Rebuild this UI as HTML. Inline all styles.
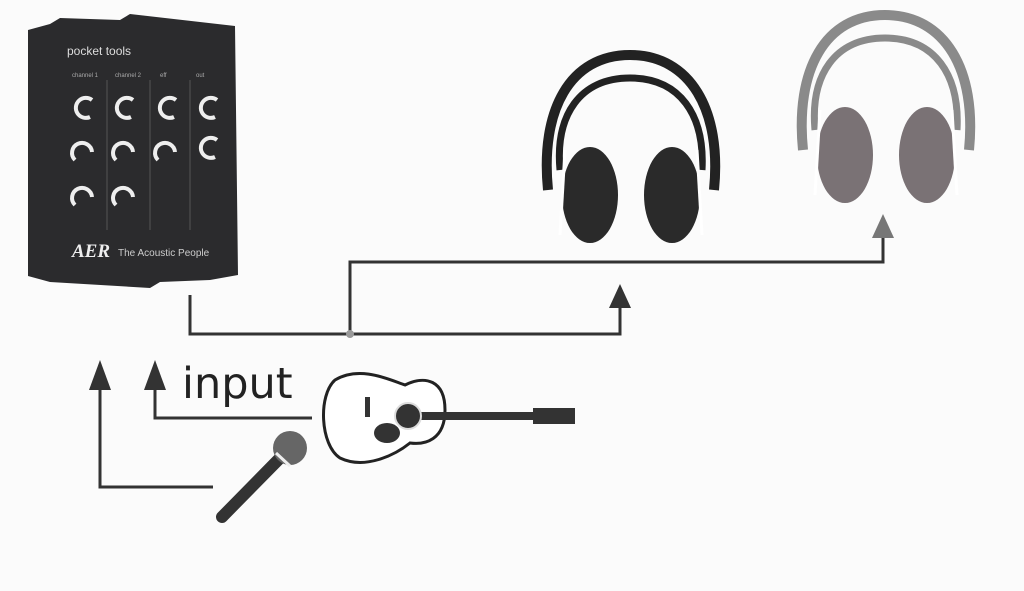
<!DOCTYPE html>
<html><head><style>
html,body{margin:0;padding:0;background:#fbfbfb;}
svg{display:block}
</style></head><body>
<svg width="1024" height="591" viewBox="0 0 1024 591" xmlns="http://www.w3.org/2000/svg">
<rect width="1024" height="591" fill="#fbfbfb"/>
<!-- device -->
<path d="M28 30 L50 24 L60 18 L120 20 L130 14 L200 22 L235 26 L238 275 L210 280 L160 282 L150 288 L50 282 L28 276 Z" fill="#2b2b2d"/>
<text x="67" y="55" font-family="Liberation Sans, sans-serif" font-size="12" fill="#ddd">pocket tools</text>
<g font-family="Liberation Sans, sans-serif" font-size="6" fill="#aaa">
<text x="72" y="77">channel 1</text><text x="115" y="77">channel 2</text><text x="160" y="77">eff</text><text x="196" y="77">out</text>
</g>
<g stroke="#eee" stroke-width="4" fill="none">
<path d="M92 100 A10 10 0 1 0 90 117"/><path d="M133 100 A10 10 0 1 0 131 117"/><path d="M176 100 A10 10 0 1 0 174 117"/><path d="M217 100 A10 10 0 1 0 215 117"/>
<path d="M75 160 A10 10 0 1 1 92 152"/><path d="M116 160 A10 10 0 1 1 133 152"/><path d="M158 160 A10 10 0 1 1 175 152"/><path d="M217 140 A10 10 0 1 0 215 157"/>
<path d="M75 205 A10 10 0 1 1 92 197"/><path d="M116 205 A10 10 0 1 1 133 197"/>
</g>
<g stroke="#555" stroke-width="1"><line x1="107" y1="80" x2="107" y2="230"/><line x1="150" y1="80" x2="150" y2="230"/><line x1="190" y1="80" x2="190" y2="230"/></g>
<text x="72" y="257" font-family="Liberation Serif, serif" font-style="italic" font-weight="bold" font-size="19" fill="#eee">AER</text>
<text x="118" y="256" font-family="Liberation Sans, sans-serif" font-size="10" fill="#ccc">The Acoustic People</text>
<!-- connectors -->
<g stroke="#333" stroke-width="3" fill="none">
<polyline points="190,295 190,334 620,334 620,305"/>
<polyline points="350,334 350,262 883,262 883,235"/>
<polyline points="213,487 100,487 100,380"/>
<polyline points="312,418 155,418 155,380"/>
</g>
<circle cx="350" cy="334" r="4" fill="#999"/>
<polygon points="620,284 609,308 631,308" fill="#333"/>
<polygon points="883,214 872,238 894,238" fill="#777"/>
<polygon points="100,360 89,390 111,390" fill="#333"/>
<polygon points="155,360 144,390 166,390" fill="#333"/>
<text x="182" y="398" font-family="DejaVu Sans, sans-serif" font-size="43" fill="#222">input</text>
<!-- headphones 1 -->
<g>
<path d="M548 190 C540 110 570 55 630 55 C690 55 722 110 714 190" stroke="#222" stroke-width="10" fill="none"/>
<path d="M560 170 C555 115 580 78 630 78 C680 78 705 115 702 170" stroke="#222" stroke-width="7" fill="none"/>
<ellipse cx="590" cy="195" rx="28" ry="48" fill="#2a2a2a"/>
<ellipse cx="672" cy="195" rx="28" ry="48" fill="#2a2a2a"/>
<path d="M565 150 L560 235" stroke="#fff" stroke-width="3"/><path d="M697 150 L702 235" stroke="#fff" stroke-width="3"/>
</g>
<!-- headphones 2 -->
<g>
<path d="M803 150 C795 70 825 15 885 15 C945 15 977 70 969 150" stroke="#8a8a8a" stroke-width="10" fill="none"/>
<path d="M815 130 C810 75 835 38 885 38 C935 38 960 75 957 130" stroke="#8a8a8a" stroke-width="7" fill="none"/>
<ellipse cx="845" cy="155" rx="28" ry="48" fill="#7a7275"/>
<ellipse cx="927" cy="155" rx="28" ry="48" fill="#7a7275"/>
<path d="M820 110 L815 195" stroke="#fff" stroke-width="3"/><path d="M952 110 L957 195" stroke="#fff" stroke-width="3"/>
</g>
<!-- guitar -->
<g>
<path d="M335 380 C360 365 390 380 405 385 C425 375 445 380 445 410 C445 440 425 445 410 443 C395 455 365 470 340 458 C320 445 318 395 335 380 Z" fill="#fff" stroke="#222" stroke-width="3"/>
<rect x="400" y="412" width="135" height="8" fill="#333"/>
<rect x="533" y="408" width="42" height="16" fill="#333"/>
<circle cx="408" cy="416" r="13" fill="#333" stroke="#ddd" stroke-width="2"/>
<ellipse cx="387" cy="433" rx="13" ry="10" fill="#333"/>
<rect x="365" y="397" width="5" height="20" fill="#333"/>
</g>
<!-- mic -->
<g>
<line x1="222" y1="517" x2="280" y2="458" stroke="#333" stroke-width="12" stroke-linecap="round"/>
<circle cx="290" cy="448" r="17" fill="#666"/>
<line x1="276" y1="453" x2="290" y2="466" stroke="#eee" stroke-width="3"/>
</g>
</svg>
</body></html>
